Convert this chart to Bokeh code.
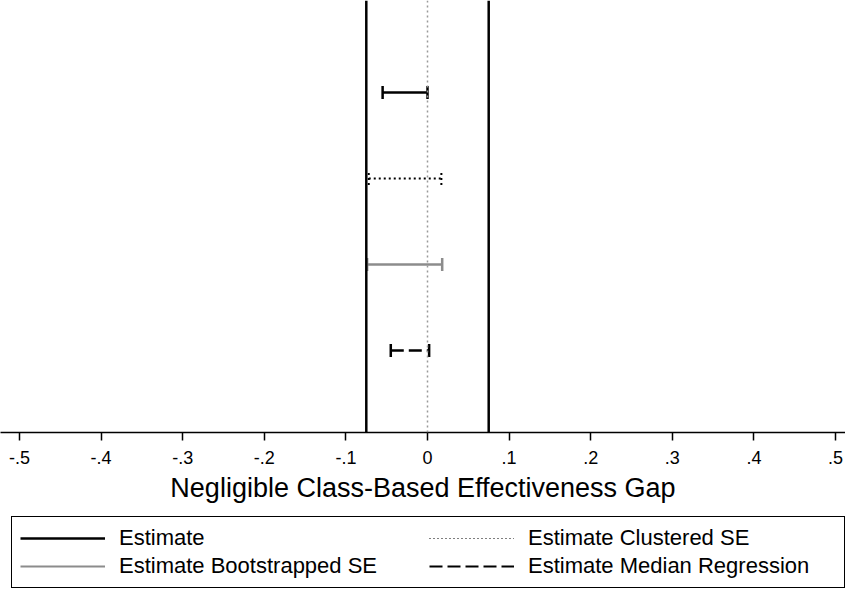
import numpy as np
from bokeh.plotting import figure
from bokeh.layouts import column
from bokeh.models import Range1d, FixedTicker, Span, Legend, LegendItem
from bokeh.embed import file_html
from bokeh.resources import INLINE

# ---- data ----
series = ["Estimate", "Estimate Clustered SE", "Estimate Bootstrapped SE", "Estimate Median Regression"]
row_pos = [4, 3, 2, 1]
ci_low = [-0.055, -0.072, -0.074, -0.045]
ci_high = [0.000, 0.017, 0.018, 0.002]
threshold = 0.075
tick_values = [-0.5, -0.4, -0.3, -0.2, -0.1, 0.0, 0.1, 0.2, 0.3, 0.4, 0.5]
tick_labels = ["-.5", "-.4", "-.3", "-.2", "-.1", "0", ".1", ".2", ".3", ".4", ".5"]
x_label = "Negligible Class-Based Effectiveness Gap"

# ---- styles ----
colors = ["black", "black", "#8c8c8c", "black"]
dashes = ["solid", "2 3", "solid", "13 5"]
widths = [2.5, 2.0, 2.5, 2.5]
legend_dashes = ["solid", "1 3", "solid", "13 5"]
legend_widths = [2.5, 1.2, 2.0, 2.0]

FONT = "Liberation Sans"

p = figure(width=845, height=510, output_backend="svg", toolbar_location=None,
           x_range=Range1d(-0.52328, 0.51225), y_range=Range1d(0.0465, 5.070),
           min_border_left=0, min_border_right=0, min_border_top=0, min_border_bottom=78)
p.outline_line_color = None
p.xgrid.visible = False
p.ygrid.visible = False
p.yaxis.visible = False
p.background_fill_color = "white"
p.border_fill_color = "white"

# reference lines
p.add_layout(Span(location=0, dimension="height", line_color="#999999", line_width=1.5, line_dash="2 3"))
p.add_layout(Span(location=-threshold, dimension="height", line_color="black", line_width=2.5))
p.add_layout(Span(location=threshold, dimension="height", line_color="black", line_width=2.5))

for i, name in enumerate(series):
    p.segment(x0=[ci_low[i]], y0=[row_pos[i]], x1=[ci_high[i]], y1=[row_pos[i]],
              line_color=colors[i], line_width=widths[i], line_dash=dashes[i])
    p.scatter(x=[ci_low[i], ci_high[i]], y=[row_pos[i], row_pos[i]], marker="dash", angle=np.pi / 2,
              size=13, line_color=colors[i], line_width=widths[i], line_dash=dashes[i])

# x axis
ax = p.xaxis[0]
ax.ticker = FixedTicker(ticks=tick_values)
ax.major_label_overrides = {v: l for v, l in zip(tick_values, tick_labels)}
ax.minor_tick_line_color = None
ax.major_tick_out = 8
ax.major_tick_in = 0
ax.major_tick_line_width = 1.5
ax.axis_line_width = 1.5
ax.major_label_standoff = 10
ax.major_label_text_font = FONT
ax.major_label_text_font_size = "18px"
ax.major_label_text_color = "black"
ax.axis_label = x_label
ax.axis_label_text_font = FONT
ax.axis_label_text_font_size = "27px"
ax.axis_label_text_font_style = "normal"
ax.axis_label_text_color = "black"
ax.axis_label_standoff = 6

# legend figure (legend key glyphs only; they hold no visible data)
lf = figure(width=845, height=79, output_backend="svg", toolbar_location=None,
            x_range=Range1d(0, 1), y_range=Range1d(0, 1),
            min_border_left=0, min_border_right=0, min_border_top=0, min_border_bottom=0)
lf.axis.visible = False
lf.grid.visible = False
lf.outline_line_color = None
lf.border_fill_color = "white"

items = []
for i, name in enumerate(series):
    r = lf.segment(x0=[np.nan], y0=[np.nan], x1=[np.nan], y1=[np.nan], line_color=colors[i],
                   line_width=legend_widths[i], line_dash=legend_dashes[i])
    items.append(LegendItem(label=name, renderers=[r]))

legend = Legend(items=items, orientation="horizontal", ncols=2, location=(11, 1),
                padding=8, spacing=2, glyph_width=85, glyph_height=24, label_standoff=14,
                label_width=308, label_text_font=FONT, label_text_font_size="22px",
                label_text_color="black",
                border_line_color="black", border_line_alpha=1.0, border_line_width=1.5, margin=0,
                background_fill_color="white")
lf.add_layout(legend, "center")

layout = column(p, lf, spacing=0)
open("out.html", "w").write(file_html(layout, INLINE))
